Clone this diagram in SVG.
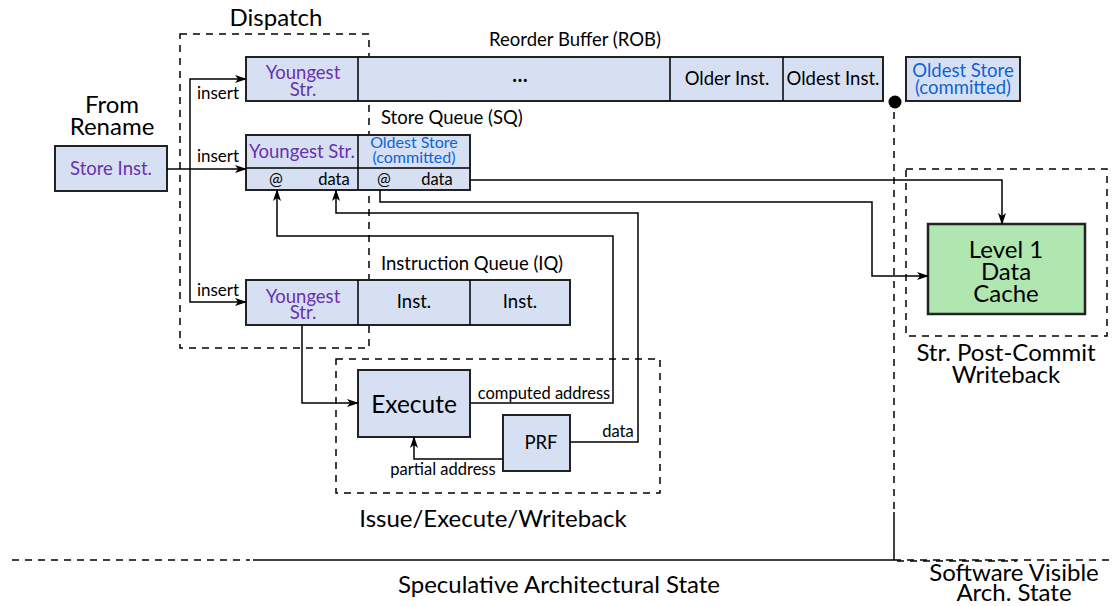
<svg xmlns="http://www.w3.org/2000/svg" width="1113" height="606" viewBox="0 0 1113 606">
<defs>
<marker id="arr" viewBox="0 0 12 8" markerWidth="12" markerHeight="8" refX="11" refY="4" orient="auto" markerUnits="userSpaceOnUse">
<path d="M0,0 L12,4 L0,8 L3,4 z" fill="#000"/>
</marker>
<style>
text{font-family:Lato,"Open Sans","Liberation Sans",sans-serif;fill:#000;text-anchor:middle}
.box{fill:#d6e0f2;stroke:#222;stroke-width:2}
.cache{fill:#b0e6b0;stroke:#222;stroke-width:2.5}
.dash{fill:none;stroke:#000;stroke-width:1.5;stroke-dasharray:7,6}
.wire{fill:none;stroke:#000;stroke-width:1.5}
.arrow{marker-end:url(#arr)}
.purple{fill:#6a30b0}
.blue{fill:#0d64d8}
.title{font-size:24px}
.lbl{font-size:18.5px}
.sm{font-size:16.5px}
.ins{font-size:17px}
.start{text-anchor:start}
</style>
</defs>

<g id="stage-dispatch">
<rect class="dash" x="180" y="34" width="189" height="314"/>
<text class="title" x="276" y="26">Dispatch</text>
</g>
<g id="stage-issue">
<rect class="dash" x="336" y="359" width="324" height="134"/>
<text class="title" x="493" y="527">Issue/Execute/Writeback</text>
</g>
<g id="stage-writeback">
<rect class="dash" x="906" y="169" width="201" height="167"/>
<text class="title" x="1006" y="361">Str. Post-Commit</text>
<text class="title" x="1006" y="383">Writeback</text>
</g>

<g id="from-rename">
<text class="title" x="112" y="113">From</text>
<text class="title" x="112" y="135">Rename</text>
</g>
<g id="store-inst">
<rect class="box" x="55" y="146" width="112" height="45"/>
<text class="lbl purple" x="111" y="175">Store Inst.</text>
</g>

<g id="rob">
<text class="lbl" x="575" y="46">Reorder Buffer (ROB)</text>
<rect class="box" x="246" y="57" width="637" height="44"/>
<line class="wire" x1="358" y1="57" x2="358" y2="101" stroke-width="2"/>
<line class="wire" x1="670" y1="57" x2="670" y2="101" stroke-width="2"/>
<line class="wire" x1="783" y1="57" x2="783" y2="101" stroke-width="2"/>
<text class="lbl purple" x="303" y="79">Youngest</text>
<text class="lbl purple" x="303" y="96">Str.</text>
<text x="520" y="82" style="font-size:20px;font-weight:bold">…</text>
<text class="lbl" x="727" y="85">Older Inst.</text>
<text class="lbl" x="833" y="85">Oldest Inst.</text>
</g>

<g id="rob-oldest-store">
<rect class="box" x="906" y="57" width="114" height="44"/>
<text class="lbl blue" x="963" y="77">Oldest Store</text>
<text class="lbl blue" x="963" y="94">(committed)</text>
</g>

<g id="sq">
<text class="lbl start" x="381" y="124">Store Queue (SQ)</text>
<rect class="box" x="246" y="135" width="224" height="55"/>
<line class="wire" x1="246" y1="168" x2="470" y2="168" stroke-width="2"/>
<line class="wire" x1="358" y1="135" x2="358" y2="190" stroke-width="2"/>
<text class="lbl purple" x="302" y="158">Youngest Str.</text>
<text class="blue" x="414" y="148" style="font-size:16px">Oldest Store</text>
<text class="blue" x="414" y="163" style="font-size:16px">(committed)</text>
<text class="sm" x="276" y="185">@</text>
<text class="sm" x="334" y="185">data</text>
<text class="sm" x="384" y="185">@</text>
<text class="sm" x="437" y="185">data</text>
</g>

<g id="iq">
<text class="lbl start" x="381" y="270">Instruction Queue (IQ)</text>
<rect class="box" x="246" y="280" width="324" height="45"/>
<line class="wire" x1="358" y1="280" x2="358" y2="325" stroke-width="2"/>
<line class="wire" x1="470" y1="280" x2="470" y2="325" stroke-width="2"/>
<text class="lbl purple" x="303" y="303">Youngest</text>
<text class="lbl purple" x="303" y="319">Str.</text>
<text class="lbl" x="414" y="308">Inst.</text>
<text class="lbl" x="520" y="308">Inst.</text>
</g>

<g id="execute">
<rect class="box" x="358" y="370" width="112" height="67"/>
<text x="414" y="413" style="font-size:24.5px">Execute</text>
</g>
<g id="prf">
<rect class="box" x="503" y="415" width="67" height="56"/>
<text class="lbl" x="541" y="449">PRF</text>
</g>

<g id="l1-cache">
<rect class="cache" x="928" y="224" width="157" height="90"/>
<text class="title" x="1006" y="258">Level 1</text>
<text class="title" x="1006" y="280">Data</text>
<text class="title" x="1006" y="302">Cache</text>
</g>

<g id="connectors">
<line class="wire arrow" x1="167" y1="169" x2="246" y2="169"/>
<polyline class="wire arrow" points="190,169 190,79 246,79"/>
<polyline class="wire arrow" points="190,169 190,302 246,302"/>
<text class="ins" x="218" y="99">insert</text>
<text class="ins" x="218" y="162">insert</text>
<text class="ins" x="218" y="296">insert</text>

<polyline class="wire arrow" points="470,180 1002,180 1002,224"/>
<polyline class="wire arrow" points="380,190 380,202 872,202 872,276 928,276"/>
<polyline class="wire arrow" points="470,403 613,403 613,236 277,236 277,190"/>
<text class="sm" x="544" y="399">computed address</text>
<polyline class="wire arrow" points="570,442 638,442 638,213 336,213 336,190"/>
<text class="sm" x="618" y="437">data</text>
<polyline class="wire arrow" points="302,325 302,403 358,403"/>
<polyline class="wire arrow" points="503,459 414,459 414,437"/>
<text class="sm" x="443" y="475">partial address</text>

<circle cx="895" cy="102" r="6.5" fill="#000"/>
<line class="dash" x1="894" y1="112" x2="894" y2="515"/>
<line class="wire" x1="894" y1="512" x2="894" y2="560"/>
<line class="dash" x1="12" y1="560" x2="250" y2="560"/>
<line class="wire" x1="253" y1="560" x2="894" y2="560"/>
<line class="dash" x1="894" y1="560" x2="1110" y2="560"/>
<line class="dash" x1="897" y1="561" x2="1017" y2="561"/>
</g>

<g id="state-labels">
<text class="title" x="559" y="593">Speculative Architectural State</text>
<text class="title" x="1014" y="581">Software Visible</text>
<text class="title" x="1014" y="601">Arch. State</text>
</g>
</svg>
